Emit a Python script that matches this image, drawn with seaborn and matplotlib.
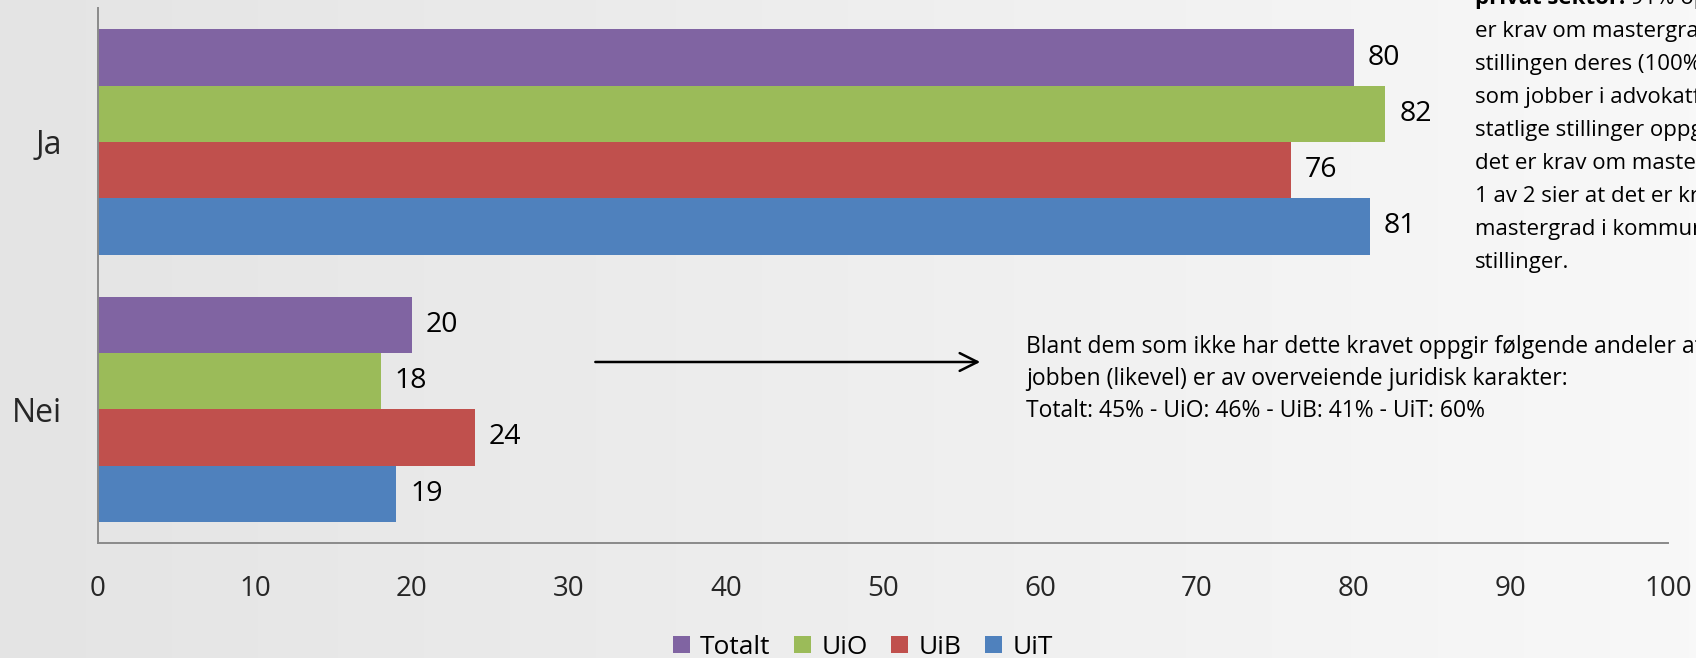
#!/usr/bin/env python3
import numpy as np
import pandas as pd
import seaborn as sns
import matplotlib.pyplot as plt

sns.set_theme(style="white")
plt.rcParams["font.family"] = ["Open Sans", "DejaVu Sans"]
plt.rcParams["text.color"] = "black"

# data
svar = ["Ja", "Nei"]
grupper = ["Totalt", "UiO", "UiB", "UiT"]
totalt = [80, 20]
uio = [82, 18]
uib = [76, 24]
uit = [81, 19]
farger = ["#8064A2", "#9BBB59", "#C0504D", "#4F81BD"]
x_ticks = list(range(0, 101, 10))

notat_hoyre = [
    "er krav om mastergrad i",
    "stillingen deres (100% blant dem",
    "som jobber i advokatfirma). I",
    "statlige stillinger oppgir 7 av 10 at",
    "det er krav om mastergrad, mens",
    "1 av 2 sier at det er krav om",
    "mastergrad i kommunale",
    "stillinger.",
]
notat_nede = [
    "Blant dem som ikke har dette kravet oppgir følgende andeler at",
    "jobben (likevel) er av overveiende juridisk karakter:",
    "Totalt: 45% - UiO: 46% - UiB: 41% - UiT: 60%",
]


def build_df():
    rows = []
    for g, vals in zip(grupper, [totalt, uio, uib, uit]):
        for s, v in zip(svar, vals):
            rows.append({"svar": s, "gruppe": g, "andel": v})
    return pd.DataFrame(rows)


def main():
    df = build_df()
    W, H = 1696, 658
    fig = plt.figure(figsize=(W / 100, H / 100), dpi=100)

    # soft grey slide background
    bg = fig.add_axes([0, 0, 1, 1], zorder=-10)
    grad = np.linspace(0, 1, 256)[None, :]
    bg.imshow(grad, aspect="auto", cmap=sns.blend_palette(["#e4e4e4", "#f8f8f8"], as_cmap=True),
              extent=[0, 1, 0, 1])
    bg.set_axis_off()

    ax = fig.add_axes([98 / W, (H - 543) / H, (1668 - 98) / W, (543 - 8.25) / H])
    ax.patch.set_alpha(0)
    sns.barplot(data=df, x="andel", y="svar", hue="gruppe", hue_order=grupper,
                order=svar, palette=farger, orient="h", width=0.842, gap=0,
                saturation=1, linewidth=0, ax=ax)

    for c in ax.containers:
        ax.bar_label(c, fmt="%g", padding=10, fontsize=20.5)

    ax.set_xlim(0, 100)
    ax.set_ylim(1.5, -0.5)
    ax.set_xticks(x_ticks)
    ax.set_xlabel("")
    ax.set_ylabel("")
    ax.tick_params(axis="x", length=0, pad=23, labelsize=20)
    ax.tick_params(axis="y", length=0, pad=26, labelsize=23)
    for side in ["top", "right"]:
        ax.spines[side].set_visible(False)
    for side in ["left", "bottom"]:
        ax.spines[side].set_color("#8a8a8a")
        ax.spines[side].set_linewidth(1.4)

    sns.move_legend(ax, "center", bbox_to_anchor=(0.487, -0.195), ncol=4,
                    frameon=False, title=None, fontsize=19,
                    handlelength=0.65, handleheight=0.65,
                    handletextpad=0.38, columnspacing=0.9)

    # arrow pointing to the note
    ax.annotate("", xy=(0.5637, 0.3385), xytext=(0.315, 0.3385),
                xycoords="axes fraction", textcoords="axes fraction",
                arrowprops=dict(arrowstyle="->", color="black", lw=1.8,
                                mutation_scale=32))

    # note to the right, first line starts above the top edge (cut like the slide)
    x0 = 1475 / W
    y0 = 1 - 4 / H
    dy = 33 / H
    fet = fig.text(x0, y0, "privat sektor:", fontsize=16, fontweight="bold",
                   va="baseline", ha="left")
    ax.annotate(" 91% oppgir at det", xy=(1, 0), xycoords=fet, fontsize=16,
                va="bottom", ha="left", annotation_clip=False)
    for i, line in enumerate(notat_hoyre, start=1):
        fig.text(x0, y0 - i * dy, line, fontsize=16, va="baseline", ha="left")

    # note below, next to the arrow
    x1 = 1026 / W
    y1 = 1 - 353 / H
    for i, line in enumerate(notat_nede):
        fig.text(x1, y1 - i * (32 / H), line, fontsize=16.5, va="baseline", ha="left")

    fig.savefig("out.png", dpi=100)
    plt.close(fig)


if __name__ == "__main__":
    main()
